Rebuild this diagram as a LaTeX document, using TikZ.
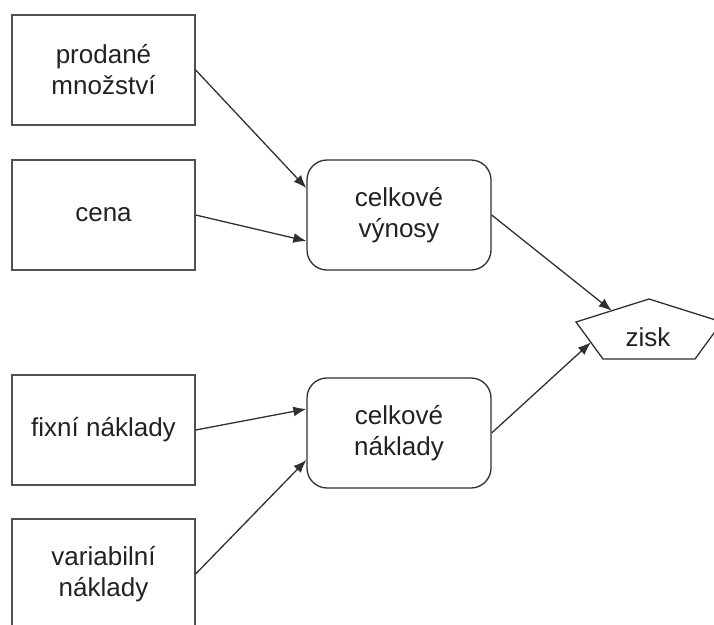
\documentclass[tikz,border=0pt]{standalone}
\usepackage{fontspec}
\setmainfont{Liberation Sans}
\usetikzlibrary{arrows.meta,calc}
\definecolor{edgegray}{HTML}{505050}
\definecolor{linegray}{HTML}{303030}
\definecolor{textgray}{HTML}{222222}
\begin{document}
\begin{tikzpicture}[x=1pt,y=-1pt,
  every node/.style={text=textgray,font=\fontsize{26}{31}\selectfont,align=center,inner sep=0pt},
  inbox/.style={draw=edgegray,line width=1.3pt,minimum width=183pt,minimum height=110pt},
  sumbox/.style={draw=linegray,line width=1.3pt,rounded corners=20pt,minimum width=184pt,minimum height=110pt},
  flow/.style={draw=linegray,line width=1.3pt,-{Latex[length=13pt,width=10pt]}}]
\useasboundingbox (0,0) rectangle (714,624);
\begin{scope}
\clip (0,0) rectangle (714,624);
% input quantities
\node[inbox] (pm) at (103.5,70) {prodané\\množství};
\node[inbox] (cena) at (103.5,215) {cena};
\node[inbox] (fn) at (103.5,430) {fixní náklady};
\node[inbox] (vn) at (103.5,574) {variabilní\\náklady};
% totals
\node[sumbox] (cv) at (399,215) {celkové\\výnosy};
\node[sumbox] (cn) at (399,433) {celkové\\náklady};
% profit pentagon
\coordinate (zt) at (649,299);
\coordinate (zl) at (576,322);
\coordinate (zr) at (722,322);
\coordinate (zbl) at (603,359);
\coordinate (zbr) at (695,359);
\draw[draw=linegray,line width=1.3pt] (zt) -- (zr) -- (zbr) -- (zbl) -- (zl) -- cycle;
\node (zisk) at (648,337) {zisk};
\coordinate (zin1) at ($(zl)!0.49!(zt)$);
\coordinate (zin2) at ($(zl)!0.55!(zbl)$);
% connectors
\draw[flow] (pm.east) -- ([yshift=27pt]cv.west);
\draw[flow] (cena.east) -- ([yshift=-26pt]cv.west);
\draw[flow] (fn.east) -- ([yshift=24pt]cn.west);
\draw[flow] (vn.east) -- ([yshift=-27pt]cn.west);
\draw[flow] (cv.east) -- (zin1);
\draw[flow] (cn.east) -- (zin2);
\end{scope}
\end{tikzpicture}
\end{document}
